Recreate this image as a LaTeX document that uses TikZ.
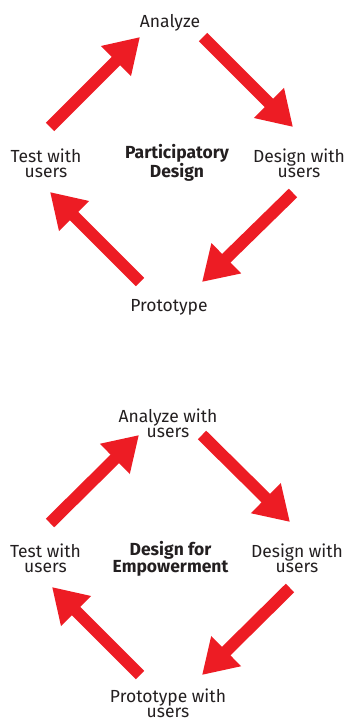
\documentclass[tikz,border=0pt]{standalone}
\usepackage{fontspec}
\setmainfont{Fira Sans}
\usetikzlibrary{arrows.meta}
\definecolor{arrowred}{HTML}{ED1C24}
\definecolor{txt}{HTML}{231F20}
\tikzset{
  px/.style={x=1pt,y=-1pt},
  lbl/.style={text=txt,align=center,inner sep=0pt,anchor=base,font=\fontsize{17.5}{15}\selectfont},
  ttl/.style={lbl,font=\fontsize{17.5}{15}\selectfont\bfseries},
  bigarrow/.style={draw=arrowred,line width=12pt,-{Triangle[length=34pt,width=40pt]}}
}
\begin{document}
\begin{tikzpicture}[px]
\useasboundingbox (0,0) rectangle (345,722);
% ---- top diagram ----
\node[lbl] (an1) at (170,27.7) {Analyze};
\node[lbl] (te1) at (46,177.7) {Test with\\users};
\node[ttl] (pd)  at (177,177.7) {Participatory\\Design};
\node[lbl] (de1) at (299,177.7) {Design with\\users};
\node[lbl] (pr1) at (169,311) {Prototype};
\coordinate (a1s) at (50,127);  \coordinate (a1e) at (140,37);
\coordinate (a2s) at (203,37);  \coordinate (a2e) at (293,127);
\coordinate (a3s) at (293,193); \coordinate (a3e) at (202,282);
\coordinate (a4s) at (140,282); \coordinate (a4e) at (50,192);
\draw[bigarrow] (a1s) -- (a1e);
\draw[bigarrow] (a2s) -- (a2e);
\draw[bigarrow] (a3s) -- (a3e);
\draw[bigarrow] (a4s) -- (a4e);
% ---- bottom diagram ----
\node[lbl] (an2) at (168,437.5) {Analyze with\\users};
\node[lbl] (te2) at (45.5,572.5) {Test with\\users};
\node[ttl] (dfe) at (170.5,572.5) {Design for\\Empowerment};
\node[lbl] (de2) at (297,572.5) {Design with\\users};
\node[lbl] (pr2) at (168,717.5) {Prototype with\\users};
\coordinate (b1s) at (50,523);  \coordinate (b1e) at (139,435);
\coordinate (b2s) at (202,435); \coordinate (b2e) at (290,522);
\coordinate (b3s) at (290,588); \coordinate (b3e) at (202,675);
\coordinate (b4s) at (140,675); \coordinate (b4e) at (52,587);
\draw[bigarrow] (b1s) -- (b1e);
\draw[bigarrow] (b2s) -- (b2e);
\draw[bigarrow] (b3s) -- (b3e);
\draw[bigarrow] (b4s) -- (b4e);
\end{tikzpicture}
\end{document}
